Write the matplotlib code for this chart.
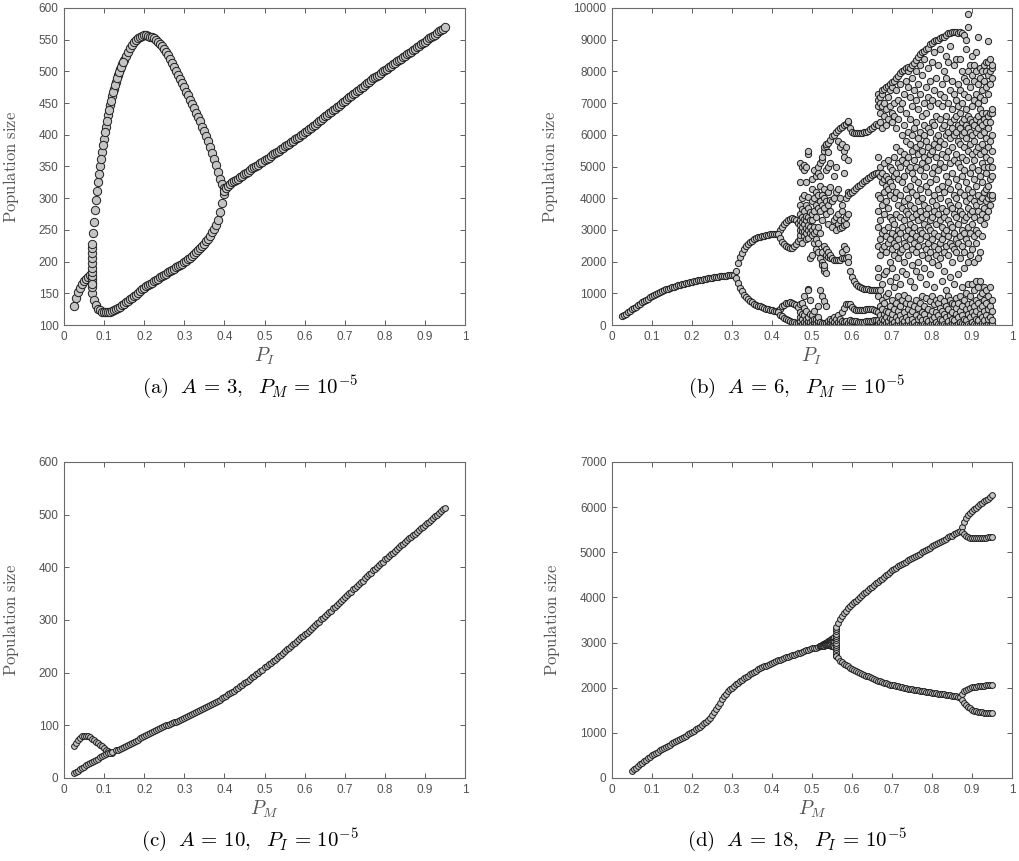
import numpy as np
import matplotlib
matplotlib.use("Agg")
import matplotlib.pyplot as plt
from matplotlib.ticker import FuncFormatter

plt.rcParams['font.family'] = ['Liberation Sans', 'DejaVu Sans']
plt.rcParams['mathtext.fontset'] = 'cm'

# ---------------- (a) A = 3, P_M = 1e-5 ----------------
a_left_y = [130, 143, 152, 158, 164, 169, 173, 176, 179]           # P_I 0.025..0.065
a_split_y = [150, 160, 166, 172, 178, 184, 190, 198, 206, 214, 222]  # column at P_I = 0.07
a_rise_y = [228, 262, 297, 325, 350, 373, 394, 413, 431, 447, 461, 473, 484, 494,
            503, 511, 518, 525, 531, 537, 542, 546, 550, 553, 555, 556, 557]  # 0.07..0.20
a_rise2_y = [245, 282, 312, 338, 362, 384, 404, 422, 439, 454, 467, 479, 489, 499,
             507, 515]  # 0.0725..0.1475
a_fall_y = [557, 556, 555, 554, 552, 550, 547, 544, 540, 536, 531, 526, 520, 514,
            507, 501, 494, 488, 481, 475, 468, 462, 455, 449, 442, 435, 428, 421,
            413, 406, 398, 390, 381, 372, 362, 352, 342, 331, 322, 316]  # 0.205..0.40
a_low_y = [165, 140, 131, 126, 123, 121, 120, 120, 120, 121, 122, 123, 125, 127,
           129, 131, 133, 136, 138, 141, 143, 146, 148, 151, 153, 156, 158, 161,
           163, 165, 167, 169, 171, 173, 175, 177, 179, 181, 183, 185, 187, 189,
           191, 193, 195, 197, 199, 201, 204, 206, 209, 212, 215, 218, 221, 224,
           228, 232, 236, 241, 246, 251, 257, 266, 278, 292, 306]  # 0.07..0.40
a_right_y = [312, 316, 319, 322, 325, 327, 329, 331, 333, 335, 338, 340, 342, 344,
             347, 349, 351, 353, 355, 357, 360, 362, 364, 366, 369, 371, 373, 375,
             377, 379, 382, 384, 386, 388, 391, 393, 395, 397, 399, 401, 404, 406,
             409, 411, 414, 416, 419, 421, 424, 426, 429, 431, 434, 436, 439, 441,
             444, 446, 449, 451, 454, 456, 459, 461, 464, 466, 469, 471, 474, 476,
             479, 481, 484, 486, 489, 491, 493, 495, 498, 500, 502, 504, 507, 509,
             511, 513, 516, 518, 520, 522, 525, 527, 529, 531, 534, 536, 538, 540,
             543, 545, 547, 549, 552, 554, 556, 558, 561, 563, 565, 567, 570]  # 0.40..0.95

# ---------------- (b) A = 6, P_M = 1e-5 ----------------
b_p1_y = [270, 312, 355, 400, 445, 490, 535, 580, 625, 668, 710, 750, 790, 830, 870,
          908, 945, 978, 1010, 1040, 1068, 1095, 1120, 1145, 1168, 1190, 1212, 1233,
          1253, 1270, 1288, 1305, 1322, 1338, 1355, 1370, 1383, 1396, 1408, 1420,
          1433, 1446, 1458, 1469, 1480, 1490, 1500, 1510, 1520, 1530, 1540, 1549,
          1557, 1565, 1572, 1580, 1590]  # 0.025..0.305
b_p2u_y = [1700, 1950, 2160, 2280, 2390, 2480, 2550, 2610, 2665, 2705, 2740, 2765,
           2785, 2805, 2820, 2835, 2845, 2855, 2865, 2870, 2875]  # 0.31..0.41
b_p2l_y = [1480, 1320, 1180, 1060, 960, 880, 815, 760, 715, 675, 640, 610, 585, 560,
           540, 520, 500, 480, 465, 450, 435]
b_p4_uu = [2880, 2990, 3100, 3190, 3260, 3310, 3345, 3360, 3350, 3310, 3230]  # 0.415..0.465
b_p4_ul = [2860, 2740, 2630, 2550, 2490, 2450, 2430, 2440, 2480, 2550, 2650]
b_p4_lu = [430, 520, 590, 640, 680, 700, 710, 700, 670, 620, 560]
b_p4_ll = [400, 330, 270, 220, 180, 150, 120, 100, 80, 60, 50]

# chaotic band before the window, columns P_I = 0.47..0.59
b_mix_py = [
    [50, 120, 250, 400, 650, 2700, 2850, 3000, 3150, 3300, 3500, 3800, 4500, 5100],
    [30, 180, 350, 700, 2600, 2950, 3100, 3250, 3400, 3650, 4000, 5000],
    [20, 90, 300, 550, 900, 2800, 2950, 3200, 3350, 3600, 4100, 4900, 5050],
    [60, 200, 450, 2700, 2900, 3050, 3300, 3450, 3800, 4500, 5000],
    [40, 140, 260, 1150, 1100, 2750, 3000, 3150, 3400, 3700, 5400, 5500, 4050],
    [10, 100, 350, 800, 2900, 3100, 3300, 3550, 2100],
    [30, 150, 300, 2200, 2850, 3000, 3300, 3500, 3900, 4300, 4600],
    [20, 80, 200, 450, 2600, 2900, 3100, 3600, 4000, 4900],
    [10, 60, 180, 2400, 2700, 2950, 3400, 3800, 4200, 4700],
    [40, 120, 250, 600, 2300, 2600, 3100, 3700, 4100, 4800, 5000],
    [20, 90, 1100, 2100, 2900, 3600, 3900, 4400, 4700, 5100],
    [30, 70, 900, 2000, 1900, 2300, 3300, 3800, 4100, 5200, 5300],
    [10, 50, 750, 1700, 1800, 1900, 2500, 3700, 4000, 4300, 5500, 5600],
    [20, 60, 600, 1650, 2200, 2400, 3500, 3900, 5650, 5700, 4900],
    [10, 40, 120, 2150, 2300, 3200, 3800, 4200, 5750, 5450, 5000],
    [30, 80, 200, 2100, 2200, 3600, 3950, 4350, 5850, 5100],
    [10, 60, 150, 2100, 3100, 3900, 5950],
    [20, 100, 250, 2050, 3300, 4000, 6000, 4700],
    [10, 40, 180, 2050, 3000, 3400, 4200, 6100, 5000],
    [30, 90, 300, 2050, 3200, 3500, 6150, 5800, 4300],
    [20, 60, 200, 2050, 3050, 3300, 4000, 6200, 5600],
    [10, 140, 400, 2100, 2300, 3100, 3600, 3800, 5700, 6250],
    [30, 80, 550, 2100, 2500, 3150, 3300, 5500, 5300, 6300, 4800],
    [10, 120, 650, 2100, 2400, 3200, 3400, 4000, 5600, 6350],
    [20, 60, 650, 2150, 2000, 3500, 4200, 4100, 5200, 6400, 6450],
]

# periodic window, P_I = 0.595..0.66
b_w1 = [6200, 6100, 6070, 6050, 6050, 6060, 6070, 6080, 6100, 6130, 6170, 6220, 6270, 6330]
b_w2 = [4150, 4200, 4260, 4320, 4380, 4430, 4480, 4530, 4580, 4630, 4680, 4720, 4760, 4800]
b_w3 = [1700, 1500, 1380, 1300, 1240, 1200, 1170, 1150, 1130, 1120, 1110, 1100, 1100, 1100]
b_w4 = [650, 560, 500, 470, 460, 460, 470, 480, 490, 500, 500, 490, 480, 450]
b_w5 = [40, 30, 25, 20, 20, 20, 25, 30, 35, 40, 45, 50, 60, 80]
b_w6 = [160, 140, 130, 120, 110, 110, 110, 110, 115, 120, 130, 140, 150, 160]

# chaotic region, columns P_I = 0.665..0.95
b_chaos_py = [
    [0, 50, 150, 400, 900, 1100, 1500, 1800, 2500, 3100, 3600, 4100, 4800, 5300, 6300, 6900, 7100, 7300],
    [20, 100, 300, 600, 1100, 2200, 2700, 3300, 4000, 4700, 5000, 6400, 6700, 7000, 7200],
    [40, 200, 500, 800, 1300, 2400, 2900, 3800, 4500, 4800, 6200, 6900, 7300, 7400],
    [10, 150, 350, 700, 1600, 2500, 3000, 3500, 4200, 4600, 5100, 6600, 7000, 7450],
    [60, 250, 450, 900, 1700, 2300, 2800, 3900, 4400, 4700, 6300, 6800, 7500],
    [30, 120, 400, 1000, 2600, 3100, 3700, 4300, 4600, 5200, 6500, 7200, 7550],
    [10, 220, 600, 1400, 2000, 2700, 3400, 4100, 4500, 5000, 6900, 7400, 7600],
    [50, 180, 350, 800, 1800, 2400, 2900, 3300, 4400, 4900, 6400, 6700, 7500, 7650],
    [20, 100, 500, 1200, 2200, 2600, 3200, 4000, 4700, 5300, 6600, 7000, 7700],
    [0, 250, 700, 1500, 2500, 2800, 3500, 4200, 4800, 5600, 6200, 7400, 7800],
    [40, 150, 450, 900, 2100, 2700, 3000, 3800, 4600, 5100, 6500, 7100, 7850],
    [10, 300, 600, 1300, 2300, 2900, 3400, 4100, 5000, 5500, 6800, 7600, 7950],
    [60, 200, 800, 1700, 2400, 3100, 3700, 4500, 5200, 6000, 7000, 8000],
    [20, 120, 400, 950, 2000, 2600, 3300, 3900, 4700, 5400, 6300, 7300, 8050],
    [0, 250, 700, 1600, 2500, 2800, 3600, 4300, 5100, 5800, 6700, 7700, 8100],
    [30, 150, 500, 850, 2200, 3000, 3500, 4000, 4900, 5300, 6100, 7500, 8000, 8150],
    [10, 350, 650, 1400, 2700, 3200, 3800, 4400, 5000, 5700, 6500, 7200, 8100],
    [50, 200, 450, 1900, 2400, 2900, 3400, 4200, 4800, 5500, 6000, 6900, 7800, 8200],
    [20, 100, 600, 1200, 2600, 3100, 3700, 4600, 5200, 6200, 7400, 8250],
    [0, 300, 800, 1700, 2300, 2800, 3500, 4100, 5000, 5600, 6400, 7100, 8000, 8350],
    [40, 180, 550, 2000, 2500, 3300, 3900, 4500, 5400, 5900, 6800, 7600, 8450],
    [10, 250, 700, 1500, 2700, 3000, 3600, 4300, 4900, 5700, 6100, 7300, 8200, 8550],
    [60, 150, 400, 900, 2200, 2900, 3400, 4000, 5100, 5500, 6600, 7900, 8600],
    [20, 350, 600, 1800, 2500, 3200, 3800, 4700, 5300, 6000, 6300, 7000, 8400, 8650],
    [0, 200, 850, 1300, 2400, 2800, 3500, 4400, 5000, 5800, 6700, 7500, 8700],
    [30, 120, 500, 2100, 2600, 3100, 3700, 4200, 5200, 5600, 6200, 7200, 8100, 8750],
    [10, 300, 750, 1600, 2300, 3000, 3300, 4500, 5400, 6100, 6900, 7700, 8850],
    [50, 180, 450, 900, 2000, 2700, 3400, 3900, 4800, 5500, 6400, 7100, 8300, 8900],
    [20, 250, 650, 1200, 2500, 2900, 3600, 4100, 5000, 5700, 6300, 7400, 8600, 8950],
    [0, 100, 400, 800, 2200, 3200, 3800, 4600, 5300, 5900, 6600, 7800, 9000],
    [40, 300, 700, 1900, 2400, 2800, 3500, 4300, 4900, 5600, 6000, 7000, 8200, 9000],
    [10, 200, 550, 850, 2100, 2600, 3300, 4000, 5100, 5800, 6500, 7300, 8700, 9050],
    [60, 150, 450, 1400, 2700, 3100, 3700, 4400, 5400, 6200, 6900, 7600, 9100],
    [20, 350, 750, 1700, 2300, 2900, 3400, 4200, 5000, 5700, 6300, 7200, 8000, 9100],
    [0, 250, 600, 1100, 2500, 3000, 3600, 4700, 5300, 6000, 6600, 7800, 8500, 9150],
    [30, 120, 500, 900, 2200, 2800, 3300, 3900, 4500, 5500, 6100, 7000, 8300, 9200],
    [10, 300, 800, 1500, 2600, 3200, 3800, 4300, 5100, 5900, 6400, 7400, 8800, 9200],
    [50, 200, 400, 700, 2000, 2500, 3100, 3700, 4800, 5600, 6200, 6800, 7700, 9250],
    [20, 150, 650, 1300, 2400, 2900, 3500, 4100, 5200, 6000, 6500, 7300, 8200, 9250],
    [0, 350, 550, 850, 2300, 2700, 3400, 4000, 4600, 5400, 6100, 6600, 7100, 8400, 9250],
    [40, 250, 700, 1600, 2600, 3200, 3800, 4400, 5100, 5800, 6300, 6900, 7600, 9200],
    [10, 100, 450, 900, 2100, 2800, 3600, 4200, 5000, 5700, 6200, 6700, 7400, 8400, 9250],
    [60, 300, 600, 1200, 2500, 3000, 3500, 4700, 5300, 6000, 6400, 7000, 8000, 9200],
    [20, 200, 800, 1800, 2300, 2900, 3300, 4100, 4900, 5600, 6100, 6500, 7300, 7800, 9150],
    [0, 150, 500, 1000, 2700, 3400, 3900, 4500, 5200, 5900, 6300, 6800, 7700, 8700, 9000],
    [30, 350, 650, 1300, 2000, 2600, 3100, 3700, 4300, 5500, 6200, 6600, 7200, 8000, 9400, 9800],
    [10, 250, 550, 900, 2200, 2900, 3500, 4000, 4800, 5700, 6100, 6500, 7500, 8200],
    [50, 100, 400, 700, 1300, 2400, 3200, 3600, 4200, 5000, 5400, 6000, 6400, 6900, 7900, 8500],
    [20, 300, 600, 1100, 2000, 2800, 3400, 3900, 4600, 5200, 5800, 6300, 7100, 7700, 8200],
    [0, 200, 450, 800, 1400, 2600, 3000, 3800, 4400, 5500, 6100, 6500, 7300, 8000, 8600],
    [40, 150, 700, 1200, 2100, 2900, 3600, 4100, 4900, 5600, 6200, 6600, 7000, 7600, 9100],
    [10, 350, 550, 900, 1400, 2300, 3300, 3900, 4700, 5400, 6000, 6400, 6800, 7200, 7800, 8100],
    [60, 250, 600, 1000, 2800, 3500, 4000, 4500, 5100, 5700, 6300, 6700, 7400, 8000],
    [20, 150, 450, 800, 1200, 3200, 3700, 4200, 5000, 5500, 6100, 6500, 7100, 7700, 8200],
    [0, 300, 700, 1100, 3400, 3900, 4300, 4800, 5300, 5900, 6400, 6700, 7500, 8000, 8300],
    [30, 200, 500, 900, 3600, 4000, 4400, 5000, 5600, 6200, 6600, 7300, 7900, 8300, 8950],
    [10, 250, 600, 1200, 3800, 4100, 4600, 5200, 5800, 6400, 6700, 7600, 8000, 8400],
    [40, 150, 450, 800, 4000, 4100, 4700, 5000, 5500, 6000, 6700, 6800, 7800, 8100, 8200],
]

# ---------------- (c) A = 10, P_I = 1e-5 ----------------
c_hump_y = [60, 66, 72, 76, 79, 80, 80, 79, 77, 74, 72, 69, 66, 63, 60, 57, 54, 52, 50, 48]  # 0.025..0.12
c_lo1_y = [10, 12, 14, 17, 19, 21, 24, 26, 28, 30, 32, 34, 37, 39, 41, 43, 45, 47, 48, 49]  # 0.025..0.12
c_lo2_y = [53, 54, 56, 57, 59, 61, 63, 65, 67, 69, 71, 73, 76, 78, 80, 82, 84, 86, 88,
           90, 92, 93, 95, 96, 98, 100, 101, 103, 104, 106, 107, 109, 110, 112, 113,
           115, 117, 119, 121, 123, 125, 127, 129, 131, 133, 135, 137, 139, 141, 143,
           145, 147, 149, 151, 154, 156, 159, 161, 164, 166, 169, 171, 174, 177, 180,
           182, 185, 188, 191, 194, 197, 200, 203, 206, 210, 213, 216, 219, 222, 225,
           228, 231, 234, 237, 241, 244, 247, 250, 254, 257, 260, 263, 267, 270, 273,
           276, 280, 283, 287, 290, 294, 297, 301, 304, 308, 311, 315, 318, 322, 325,
           329, 333, 337, 340, 344, 347, 351, 354, 358, 361, 365, 368, 372, 375, 379,
           383, 387, 390, 394, 397, 401, 404, 408, 411, 415, 418, 422, 425, 428, 431,
           435, 438, 442, 445, 448, 451, 455, 458, 461, 464, 468, 471, 474, 477, 481,
           484, 487, 490, 494, 497, 500, 503, 507, 510, 513]  # 0.13..0.95

# ---------------- (d) A = 18, P_I = 1e-5 ----------------
d_main_y = [155, 193, 230, 265, 300, 335, 370, 405, 440, 470, 500, 530, 560, 585, 610,
            638, 665, 690, 715, 740, 765, 790, 815, 840, 865, 890, 915, 940, 965, 992,
            1020, 1047, 1075, 1107, 1140, 1175, 1210, 1250, 1290, 1338, 1390, 1452,
            1520, 1595, 1670, 1742, 1810, 1868, 1920, 1962, 2000, 2040, 2080, 2115,
            2150, 2180, 2210, 2240, 2270, 2300, 2330, 2355, 2380, 2405, 2430, 2450,
            2470, 2490, 2510, 2530, 2550, 2570, 2590, 2605, 2620, 2640, 2660, 2675,
            2690, 2705, 2720, 2735, 2750, 2765, 2780, 2795, 2810, 2825, 2840, 2855,
            2870, 2880, 2890, 2905, 2920, 2930, 2940, 2950, 2960, 2975, 2990]  # 0.05..0.55
d_cone_u = [2925, 2935, 2950, 2962, 2975, 2988, 3000, 3015, 3030, 3045, 3060, 3075, 3090, 3105, 3120]
d_cone_m = [2920, 2928, 2938, 2946, 2955, 2963, 2970, 2979, 2988, 2994, 3000, 3005, 3010, 3012, 3015]
d_cone_l = [2915, 2920, 2925, 2930, 2935, 2938, 2940, 2943, 2945, 2943, 2940, 2935, 2930, 2920, 2910]  # 0.52..0.555
d_split_y = [2700, 2750, 2800, 2850, 2900, 2950, 3000, 3050, 3100, 3150, 3200, 3250, 3300]  # column at 0.56
d_up_y = [3350, 3440, 3520, 3590, 3660, 3710, 3760, 3805, 3850, 3890, 3930, 3970, 4010,
          4050, 4090, 4125, 4160, 4200, 4240, 4275, 4310, 4345, 4380, 4415, 4450, 4490,
          4530, 4565, 4600, 4630, 4660, 4690, 4720, 4745, 4770, 4795, 4820, 4845, 4870,
          4895, 4920, 4945, 4970, 5000, 5030, 5055, 5080, 5105, 5130, 5155, 5180, 5205,
          5230, 5255, 5280, 5305, 5330, 5350, 5370, 5395, 5420, 5450, 5480]  # 0.56..0.87
d_lo_y = [2700, 2650, 2600, 2560, 2520, 2495, 2470, 2445, 2420, 2395, 2370, 2350, 2330,
          2310, 2290, 2270, 2250, 2230, 2210, 2190, 2170, 2155, 2140, 2125, 2110, 2095,
          2080, 2070, 2060, 2050, 2040, 2030, 2020, 2010, 2000, 1990, 1980, 1972, 1965,
          1958, 1950, 1942, 1935, 1928, 1920, 1912, 1905, 1898, 1890, 1882, 1875, 1868,
          1860, 1855, 1850, 1845, 1840, 1832, 1825, 1818, 1810, 1802, 1795]
d_uu_y = [5560, 5680, 5770, 5830, 5880, 5920, 5950, 5980, 6020, 6060, 6090, 6130, 6160, 6190, 6230, 6260]  # 0.875..0.95
d_ul_y = [5450, 5400, 5350, 5330, 5320, 5315, 5310, 5310, 5310, 5315, 5320, 5320, 5325, 5330, 5335, 5340]
d_lu_y = [1870, 1930, 1960, 1980, 1995, 2005, 2015, 2025, 2030, 2035, 2040, 2045, 2050, 2055, 2060, 2060]
d_ll_y = [1720, 1660, 1610, 1570, 1540, 1510, 1495, 1480, 1470, 1460, 1455, 1450, 1445, 1440, 1435, 1430]


def grid(x0, x1, ys):
    return np.linspace(x0, x1, len(ys))


W, H = 1019, 861
fig = plt.figure(figsize=(W / 100, H / 100), dpi=100)


def make_ax(l, t, w, h):
    return fig.add_axes([l / W, 1 - (t + h) / H, w / W, h / H])


def style(ax, top, step, ylab_x):
    ax.set_xlim(0, 1)
    ax.set_ylim(top[0], top[1])
    ax.set_xticks(np.linspace(0, 1, 11))
    ax.set_yticks(np.arange(top[0], top[1] + 1, step))
    ax.xaxis.set_major_formatter(FuncFormatter(lambda v, p: f'{v:g}'))
    ax.yaxis.set_major_formatter(FuncFormatter(lambda v, p: f'{v:.0f}'))
    ax.tick_params(direction='in', top=True, right=True, length=3.5, width=0.6,
                   color='#444444', labelcolor='#505050', labelsize=8.5, pad=4)
    for s in ax.spines.values():
        s.set_color('#6a6a6a')
        s.set_linewidth(0.8)
    ax.set_ylabel(r'$\mathrm{Population\ size}$', fontsize=12, color='#555555')
    ax.yaxis.set_label_coords(ylab_x, 0.5)


def dots(ax, x, y, ms):
    ax.plot(x, y, 'o', ls='none', ms=ms, mfc='#c4c4c4', mec='#1e1e1e', mew=0.7)


# (a)
ax = make_ax(64, 8, 401, 317)
ms = 6.0
dots(ax, grid(0.025, 0.065, a_left_y), a_left_y, ms)
dots(ax, [0.07] * len(a_split_y), a_split_y, ms)
dots(ax, grid(0.07, 0.20, a_rise_y), a_rise_y, ms)
dots(ax, grid(0.0725, 0.1475, a_rise2_y), a_rise2_y, ms)
dots(ax, grid(0.205, 0.40, a_fall_y), a_fall_y, ms)
dots(ax, grid(0.07, 0.40, a_low_y), a_low_y, ms)
dots(ax, grid(0.40, 0.95, a_right_y), a_right_y, ms)
style(ax, (100, 600), 50, -0.108)
ax.set_xlabel(r'$P_I$', fontsize=14, color='#555555', labelpad=2)

# (b)
ax = make_ax(612, 8, 400, 317)
ms = 4.5
dots(ax, grid(0.025, 0.305, b_p1_y), b_p1_y, ms)
dots(ax, grid(0.31, 0.41, b_p2u_y), b_p2u_y, ms)
dots(ax, grid(0.31, 0.41, b_p2l_y), b_p2l_y, ms)
for br in (b_p4_uu, b_p4_ul, b_p4_lu, b_p4_ll):
    dots(ax, grid(0.415, 0.465, br), br, ms)
for px, col in zip(np.linspace(0.47, 0.59, len(b_mix_py)), b_mix_py):
    dots(ax, [px] * len(col), col, ms)
for br in (b_w1, b_w2, b_w3, b_w4, b_w5, b_w6):
    dots(ax, grid(0.595, 0.66, br), br, ms)
for px, col in zip(np.linspace(0.665, 0.95, len(b_chaos_py)), b_chaos_py):
    dots(ax, [px] * len(col), col, ms)
style(ax, (0, 10000), 1000, -0.13)
ax.set_xlabel(r'$P_I$', fontsize=14, color='#555555', labelpad=2)

# (c)
ax = make_ax(64, 462, 401, 316)
ms = 4.2
dots(ax, grid(0.025, 0.12, c_hump_y), c_hump_y, ms)
dots(ax, grid(0.025, 0.12, c_lo1_y), c_lo1_y, ms)
dots(ax, grid(0.13, 0.95, c_lo2_y), c_lo2_y, ms)
style(ax, (0, 600), 100, -0.108)
ax.set_xlabel(r'$P_M$', fontsize=14, color='#555555', labelpad=2)

# (d)
ax = make_ax(612, 462, 400, 316)
ms = 4.2
dots(ax, grid(0.05, 0.55, d_main_y), d_main_y, ms)
for br in (d_cone_u, d_cone_m, d_cone_l):
    dots(ax, grid(0.52, 0.555, br), br, ms)
dots(ax, [0.56] * len(d_split_y), d_split_y, ms)
dots(ax, grid(0.56, 0.87, d_up_y), d_up_y, ms)
dots(ax, grid(0.56, 0.87, d_lo_y), d_lo_y, ms)
for br in (d_uu_y, d_ul_y, d_lu_y, d_ll_y):
    dots(ax, grid(0.875, 0.95, br), br, ms)
style(ax, (0, 7000), 1000, -0.125)
ax.set_xlabel(r'$P_M$', fontsize=14, color='#555555', labelpad=2)

# captions
cap = dict(ha='center', va='center', fontsize=15)
fig.text(250 / W, 1 - 387 / H, r'$\mathrm{(a)}\ \ A\,=\,3,\ \ P_M\,=\,10^{-5}$', **cap)
fig.text(797 / W, 1 - 387 / H, r'$\mathrm{(b)}\ \ A\,=\,6,\ \ P_M\,=\,10^{-5}$', **cap)
fig.text(250 / W, 1 - 840 / H, r'$\mathrm{(c)}\ \ A\,=\,10,\ \ P_I\,=\,10^{-5}$', **cap)
fig.text(797 / W, 1 - 840 / H, r'$\mathrm{(d)}\ \ A\,=\,18,\ \ P_I\,=\,10^{-5}$', **cap)

fig.savefig('out.png', dpi=100)
